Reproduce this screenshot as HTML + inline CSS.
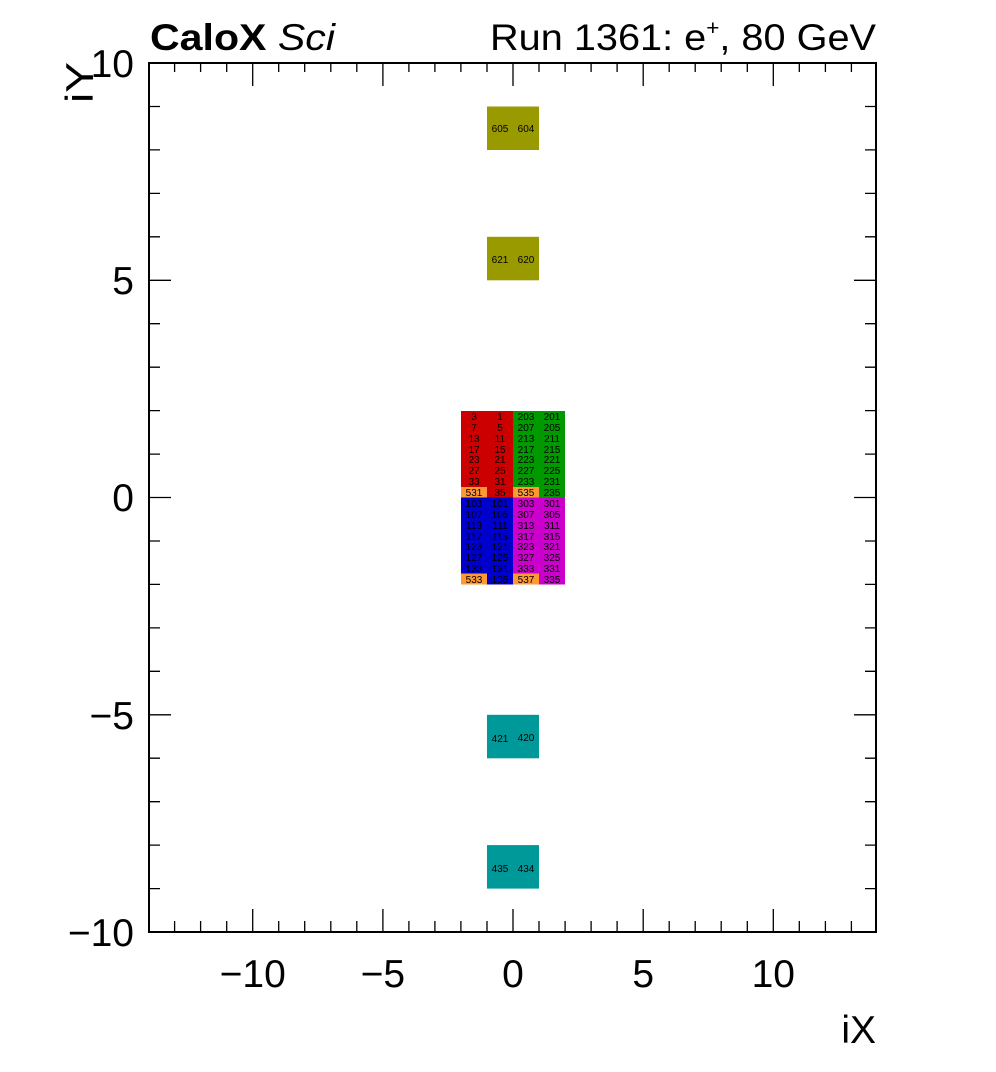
<!DOCTYPE html>
<html><head><meta charset="utf-8"><style>
html,body{margin:0;padding:0;background:#fff;}
svg{display:block;font-family:"Liberation Sans",Arial,sans-serif;}
.c{font-size:10px;text-anchor:middle;fill:#000;}
.t{font-size:39px;fill:#000;}
</style></head><body>
<svg width="996" height="1072" viewBox="0 0 996 1072" xmlns="http://www.w3.org/2000/svg">
<rect width="996" height="1072" fill="#fff"/>
<rect x="461" y="411" width="52" height="86.5" fill="#cc0000"/>
<rect x="513" y="411" width="52" height="86.5" fill="#009900"/>
<rect x="461" y="497.5" width="52" height="87" fill="#0000cc"/>
<rect x="513" y="497.5" width="52" height="87" fill="#cc00cc"/>
<rect x="461" y="487" width="26" height="10.5" fill="#ff9933"/>
<rect x="513" y="487" width="26" height="10.5" fill="#ff9933"/>
<rect x="461" y="573.5" width="26" height="11" fill="#ff9933"/>
<rect x="513" y="573.5" width="26" height="11" fill="#ff9933"/>
<rect x="487" y="106.5" width="52" height="43.5" fill="#999900"/>
<rect x="487" y="236.8" width="52" height="43.5" fill="#999900"/>
<rect x="487" y="714.8" width="52" height="43.5" fill="#009999"/>
<rect x="487" y="845.1" width="52" height="43.5" fill="#009999"/>
<g class="c">
<text x="500" y="132">605</text><text x="526" y="132">604</text>
<text x="500" y="263">621</text><text x="526" y="263">620</text>
<text x="500" y="742">421</text><text x="526" y="741">420</text>
<text x="500" y="872">435</text><text x="526" y="872">434</text>
<text x="474" y="420">3</text><text x="500" y="420">1</text><text x="526" y="420">203</text><text x="552" y="420">201</text>
<text x="474" y="431">7</text><text x="500" y="431">5</text><text x="526" y="431">207</text><text x="552" y="431">205</text>
<text x="474" y="442">13</text><text x="500" y="442">11</text><text x="526" y="442">213</text><text x="552" y="442">211</text>
<text x="474" y="453">17</text><text x="500" y="453">15</text><text x="526" y="453">217</text><text x="552" y="453">215</text>
<text x="474" y="463">23</text><text x="500" y="463">21</text><text x="526" y="463">223</text><text x="552" y="463">221</text>
<text x="474" y="474">27</text><text x="500" y="474">25</text><text x="526" y="474">227</text><text x="552" y="474">225</text>
<text x="474" y="485">33</text><text x="500" y="485">31</text><text x="526" y="485">233</text><text x="552" y="485">231</text>
<text x="474" y="496">531</text><text x="500" y="496">35</text><text x="526" y="496">535</text><text x="552" y="496">235</text>
<text x="474" y="507">103</text><text x="500" y="507">101</text><text x="526" y="507">303</text><text x="552" y="507">301</text>
<text x="474" y="518">107</text><text x="500" y="518">105</text><text x="526" y="518">307</text><text x="552" y="518">305</text>
<text x="474" y="529">113</text><text x="500" y="529">111</text><text x="526" y="529">313</text><text x="552" y="529">311</text>
<text x="474" y="540">117</text><text x="500" y="540">115</text><text x="526" y="540">317</text><text x="552" y="540">315</text>
<text x="474" y="550">123</text><text x="500" y="550">121</text><text x="526" y="550">323</text><text x="552" y="550">321</text>
<text x="474" y="561">127</text><text x="500" y="561">125</text><text x="526" y="561">327</text><text x="552" y="561">325</text>
<text x="474" y="572">133</text><text x="500" y="572">131</text><text x="526" y="572">333</text><text x="552" y="572">331</text>
<text x="474" y="583">533</text><text x="500" y="583">135</text><text x="526" y="583">537</text><text x="552" y="583">335</text>
</g>
<rect x="149" y="63" width="727" height="869" fill="none" stroke="#000" stroke-width="2"/>
<path stroke="#000" stroke-width="1.3" fill="none" d="
M174.6 932v-11M200.6 932v-11M226.7 932v-11M252.7 932v-23M278.7 932v-11M304.7 932v-11M330.8 932v-11M356.8 932v-11M382.9 932v-23M408.9 932v-11M434.9 932v-11M460.9 932v-11M487 932v-11M513 932v-23M539 932v-11M565.1 932v-11M591.1 932v-11M617.1 932v-11M643.2 932v-23M669.2 932v-11M695.2 932v-11M721.2 932v-11M747.3 932v-11M773.3 932v-23M799.3 932v-11M825.4 932v-11M851.4 932v-11
M174.6 63v9M200.6 63v9M226.7 63v9M252.7 63v23M278.7 63v9M304.7 63v9M330.8 63v9M356.8 63v9M382.9 63v23M408.9 63v9M434.9 63v9M460.9 63v9M487 63v9M513 63v23M539 63v9M565.1 63v9M591.1 63v9M617.1 63v9M643.2 63v23M669.2 63v9M695.2 63v9M721.2 63v9M747.3 63v9M773.3 63v23M799.3 63v9M825.4 63v9M851.4 63v9
M149 106.5h11M149 149.9h11M149 193.4h11M149 236.8h11M149 280.3h22M149 323.7h11M149 367.2h11M149 410.6h11M149 454.1h11M149 497.5h22M149 541h11M149 584.4h11M149 627.9h11M149 671.3h11M149 714.8h22M149 758.2h11M149 801.7h11M149 845.1h11M149 888.6h11
M876 106.5h-11M876 149.9h-11M876 193.4h-11M876 236.8h-11M876 280.3h-22M876 323.7h-11M876 367.2h-11M876 410.6h-11M876 454.1h-11M876 497.5h-22M876 541h-11M876 584.4h-11M876 627.9h-11M876 671.3h-11M876 714.8h-22M876 758.2h-11M876 801.7h-11M876 845.1h-11M876 888.6h-11"/>
<g class="t" text-anchor="middle">
<text x="252.7" y="987">−10</text>
<text x="382.9" y="987">−5</text>
<text x="513" y="987">0</text>
<text x="643.2" y="987">5</text>
<text x="773.3" y="987">10</text>
</g>
<g class="t" text-anchor="end">
<text x="134" y="77">10</text>
<text x="134" y="294">5</text>
<text x="134" y="511">0</text>
<text x="134" y="729">−5</text>
<text x="134" y="946">−10</text>
</g>
<text class="t" x="876" y="1043" text-anchor="end" font-size="45">iX</text>
<text class="t" transform="translate(93,62) rotate(-90)" text-anchor="end" font-size="46" textLength="41" lengthAdjust="spacingAndGlyphs">iY</text>
<text x="150" y="50" font-size="37" fill="#000" textLength="185" lengthAdjust="spacingAndGlyphs"><tspan font-weight="bold">CaloX</tspan> <tspan font-style="italic">Sci</tspan></text>
<text x="490" y="50" font-size="37" fill="#000" textLength="386" lengthAdjust="spacingAndGlyphs">Run 1361: e<tspan font-size="21" dy="-15">+</tspan><tspan dy="15">, 80 GeV</tspan></text>
</svg>
</body></html>
